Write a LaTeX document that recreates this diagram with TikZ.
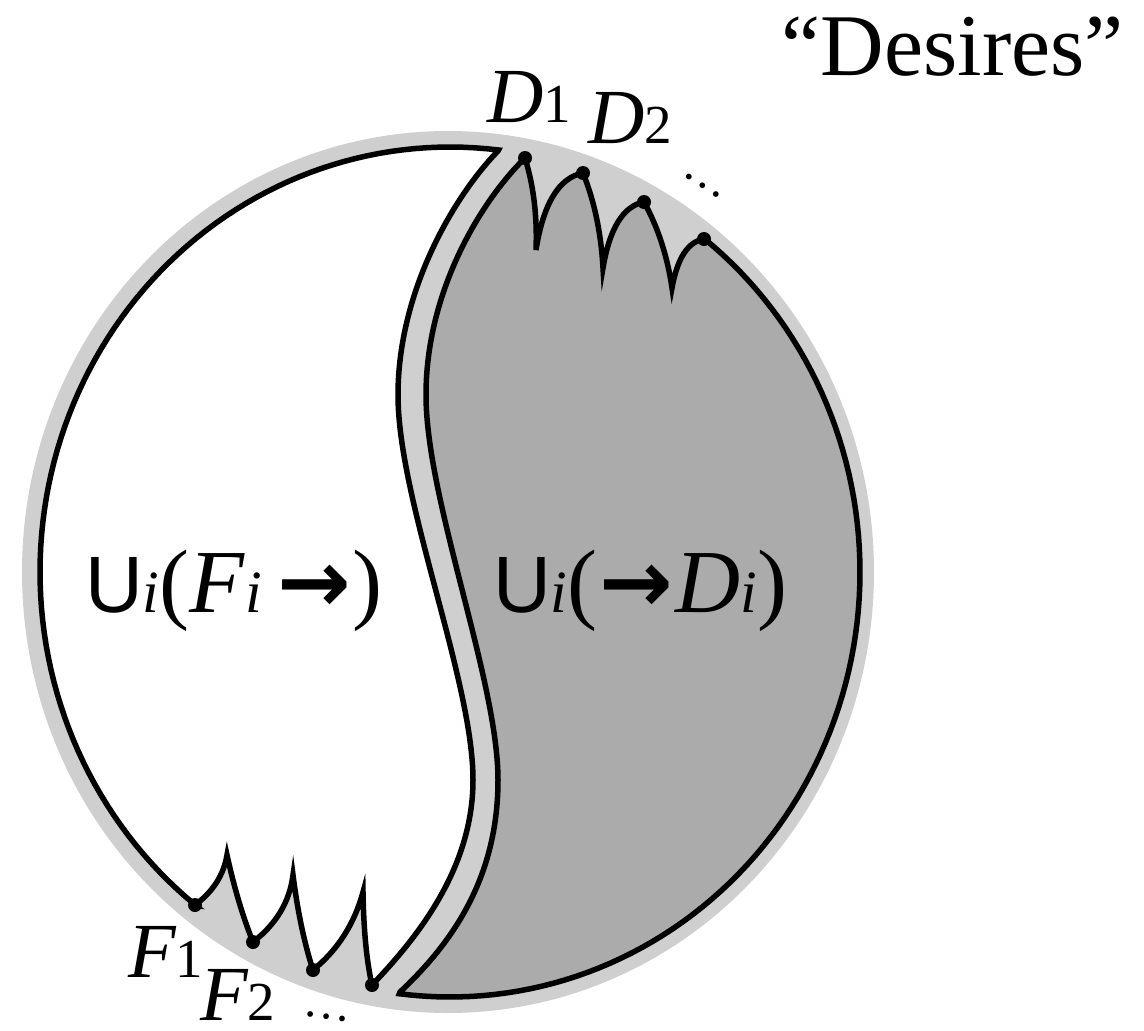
\documentclass[tikz,border=0pt]{standalone}
\usepackage{fontspec}
\setmainfont{Liberation Serif}
\setsansfont{Liberation Sans}
\newfontfamily\arrowfont{DejaVu Sans}
\usetikzlibrary{calc}
\definecolor{ringgray}{gray}{0.81}
\definecolor{regiongray}{gray}{0.67}
\newcommand\ptlabel[2]{{\fontsize{78}{78}\selectfont\itshape #1}{\fontsize{55}{55}\selectfont #2}}
\newcommand\smalli{{\fontsize{60}{60}\selectfont\itshape i}}
\newcommand\bigU{{\fontsize{80}{80}\selectfont\sffamily U}}
\newcommand\boldarrow{{\fontsize{88}{88}\selectfont\arrowfont\bfseries →}}
\begin{document}
\begin{tikzpicture}[x=1pt,y=-1pt,
  outline/.style={draw=black, line width=5.5pt},
  dotnode/.style={circle, fill=black, inner sep=0pt, minimum size=14pt},
  lbl/.style={inner sep=0pt, anchor=base west},
  dots/.style={inner sep=0pt, font=\fontsize{48}{48}\selectfont}]
\useasboundingbox (0,0) rectangle (1144,1031);
% positions
\coordinate (D1) at (525,158);
\coordinate (V1) at (536,250);
\coordinate (D2) at (583,173);
\coordinate (V2) at (603,268);
\coordinate (D3) at (644,202);
\coordinate (V3) at (672,288);
\coordinate (D4) at (704,239);
\coordinate (F1) at (195,905);
\coordinate (P1) at (227,855);
\coordinate (F2) at (253,942);
\coordinate (P2) at (293,875);
\coordinate (F3) at (313,970);
\coordinate (P3) at (363,892);
\coordinate (F4) at (372,985);
\coordinate (WT) at (498,151);
\coordinate (GB) at (400,992);
\coordinate (WL) at (398,395);
\coordinate (WR) at (473,780);
\coordinate (GL) at (426,395);
\coordinate (GR) at (498,780);
% outer ring
\fill[ringgray] (448,572) ellipse [x radius=426pt, y radius=441pt];
% white region
\path[fill=white, outline] (F1)
  -- plot[domain=128.4:276.8, samples=90] ({450+410*cos(\x)},{572+425*sin(\x)})
  -- (WT)
  .. controls (455,195) and (398,290) .. (WL)
  .. controls (398,500) and (473,680) .. (WR)
  .. controls (473,870) and (415,940) .. (F4)
  .. controls ($(F4)!0.667!(364,950)$) and ($(P3)!0.667!(364,950)$) .. (P3)
  .. controls ($(P3)!0.667!(350,940)$) and ($(F3)!0.667!(350,940)$) .. (F3)
  .. controls ($(F3)!0.667!(300,930)$) and ($(P2)!0.667!(300,930)$) .. (P2)
  .. controls ($(P2)!0.667!(288,915)$) and ($(F2)!0.667!(288,915)$) .. (F2)
  .. controls ($(F2)!0.667!(238,905)$) and ($(P1)!0.667!(238,905)$) .. (P1)
  .. controls ($(P1)!0.667!(222,885)$) and ($(F1)!0.667!(222,885)$) .. (F1)
  -- cycle;
% gray region
\path[fill=regiongray, outline] (D1)
  .. controls ($(D1)!0.667!(538,200)$) and ($(V1)!0.667!(538,200)$) .. (V1)
  .. controls ($(V1)!0.667!(547,180)$) and ($(D2)!0.667!(547,180)$) .. (D2)
  .. controls ($(D2)!0.667!(600,215)$) and ($(V2)!0.667!(600,215)$) .. (V2)
  .. controls ($(V2)!0.667!(613,208)$) and ($(D3)!0.667!(613,208)$) .. (D3)
  .. controls ($(D3)!0.667!(665,240)$) and ($(V3)!0.667!(665,240)$) .. (V3)
  .. controls ($(V3)!0.667!(680,243)$) and ($(D4)!0.667!(680,243)$) .. (D4)
  -- plot[domain=-51.7:97.1, samples=90] ({450+410*cos(\x)},{572+425*sin(\x)})
  -- (GB)
  .. controls (450,945) and (498,880) .. (GR)
  .. controls (498,680) and (426,500) .. (GL)
  .. controls (426,290) and (482,200) .. (D1)
  -- cycle;
% points
\node[dotnode] (dD1) at (D1) {};
\node[dotnode] (dD2) at (D2) {};
\node[dotnode] (dD3) at (D3) {};
\node[dotnode] (dD4) at (D4) {};
\node[dotnode] (dF1) at (F1) {};
\node[dotnode] (dF2) at (F2) {};
\node[dotnode] (dF3) at (F3) {};
\node[dotnode] (dF4) at (F4) {};
% labels
\node[lbl] (labD1) at (487,122) {\ptlabel{D}{1}};
\node[lbl] (labD2) at (588,143) {\ptlabel{D}{2}};
\node[lbl] (labF1) at (128,977) {\ptlabel{F}{1}};
\node[lbl] (labF2) at (200,1020) {\ptlabel{F}{2}};
\node[dots, rotate=-33] (dotsD) at (703,186) {…};
\node[dots, rotate=-8] (dotsF) at (327,1017) {…};
\node[inner sep=0pt, anchor=base east, font=\fontsize{88}{88}\selectfont] (title) at (1124,75) {“Desires”};
\node[lbl, font=\fontsize{90}{90}\selectfont] (leftlab) at (85,612) {\bigU\smalli(\textit{F}\smalli\,\boldarrow\kern2pt)};
\node[lbl, font=\fontsize{90}{90}\selectfont] (rightlab) at (493,612) {\bigU\smalli(\kern2pt\boldarrow\kern2pt\textit{D}\smalli)};
\end{tikzpicture}
\end{document}
